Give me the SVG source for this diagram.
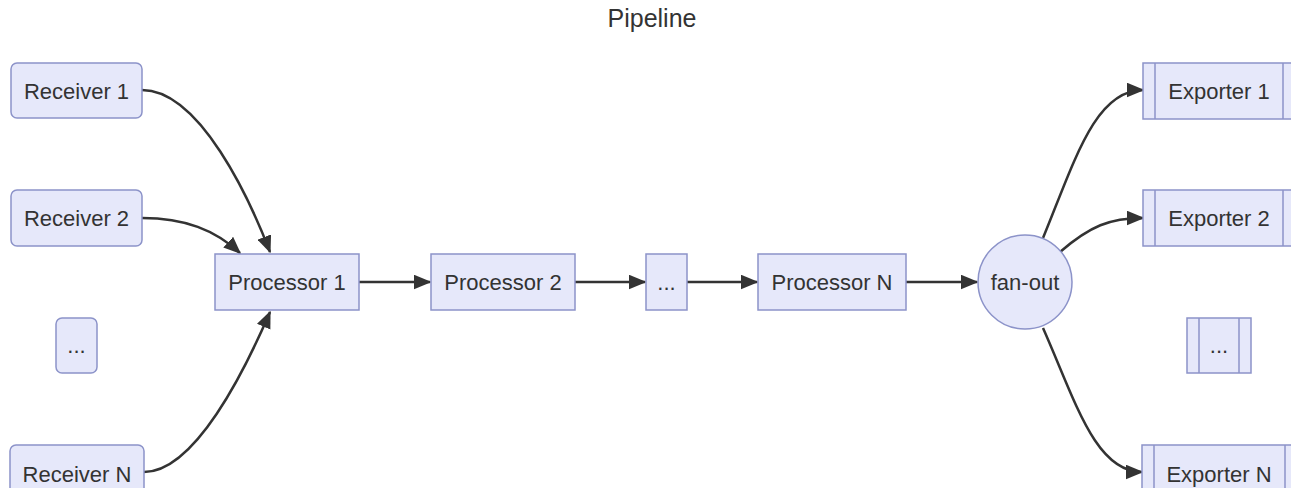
<svg xmlns="http://www.w3.org/2000/svg" width="1291" height="488" viewBox="0 0 1291 488">
  <style>
    .node { fill: #E6E8FA; stroke: #8C93C9; stroke-width: 1.5; }
    .bar { stroke: #8C93C9; stroke-width: 1.5; fill: none; }
    .label { font-family: "Liberation Sans", Arial, sans-serif; font-size: 22px; fill: #333333; text-anchor: middle; }
    .title { font-family: "Liberation Sans", Arial, sans-serif; font-size: 25px; fill: #333333; text-anchor: middle; }
    .edge { fill: none; stroke: #333333; stroke-width: 2.5; marker-end: url(#arrow); }
  </style>
  <defs>
    <marker id="arrow" viewBox="0 0 12 10" refX="11" refY="5" markerWidth="7" markerHeight="6" markerUnits="strokeWidth" orient="auto">
      <path d="M0,0 L12,5 L0,10 Z" fill="#333333"/>
    </marker>
  </defs>

  <rect width="1291" height="488" fill="#FFFFFF"/>
  <text class="title" x="652" y="27">Pipeline</text>

  <g id="connectors">
    <path class="edge" d="M142,90 C200,90 250,200 270,252"/>
    <path class="edge" d="M142,218 C185,218 215,230 240,253"/>
    <path class="edge" d="M144,472 C195,472 245,370 270,312"/>
    <path class="edge" d="M359,282 L430,282"/>
    <path class="edge" d="M575,282 L645,282"/>
    <path class="edge" d="M687,282 L757,282"/>
    <path class="edge" d="M906,282 L977,282"/>
    <path class="edge" d="M1043,238 C1075,160 1095,90 1143,90"/>
    <path class="edge" d="M1060,252 C1090,226 1110,218 1143,218"/>
    <path class="edge" d="M1043,328 C1075,400 1095,472 1142,472"/>
  </g>

  <g id="receiver1">
    <rect class="node" x="11" y="63" width="131" height="55" rx="6"/>
    <text class="label" x="76.5" y="98.5">Receiver 1</text>
  </g>
  <g id="receiver2">
    <rect class="node" x="11" y="190" width="131" height="56" rx="6"/>
    <text class="label" x="76.5" y="226">Receiver 2</text>
  </g>
  <g id="receiverDots">
    <rect class="node" x="56" y="318" width="41" height="55" rx="6"/>
    <text class="label" x="76.5" y="353">...</text>
  </g>
  <g id="receiverN">
    <rect class="node" x="10" y="445" width="134" height="56" rx="6"/>
    <text class="label" x="77" y="482">Receiver N</text>
  </g>

  <g id="processor1">
    <rect class="node" x="215" y="254" width="144" height="56"/>
    <text class="label" x="287" y="290">Processor 1</text>
  </g>
  <g id="processor2">
    <rect class="node" x="431" y="254" width="144" height="56"/>
    <text class="label" x="503" y="290">Processor 2</text>
  </g>
  <g id="processorDots">
    <rect class="node" x="646" y="254" width="41" height="56"/>
    <text class="label" x="666.5" y="290">...</text>
  </g>
  <g id="processorN">
    <rect class="node" x="758" y="254" width="148" height="56"/>
    <text class="label" x="832" y="290">Processor N</text>
  </g>

  <g id="fanout">
    <circle class="node" cx="1025" cy="282" r="47"/>
    <text class="label" x="1025" y="290">fan-out</text>
  </g>

  <g id="exporter1">
    <rect class="node" x="1143" y="63" width="160" height="56"/>
    <line class="bar" x1="1155" y1="63" x2="1155" y2="119"/>
    <line class="bar" x1="1283" y1="63" x2="1283" y2="119"/>
    <text class="label" x="1219" y="98.5">Exporter 1</text>
  </g>
  <g id="exporter2">
    <rect class="node" x="1143" y="190" width="160" height="56"/>
    <line class="bar" x1="1155" y1="190" x2="1155" y2="246"/>
    <line class="bar" x1="1283" y1="190" x2="1283" y2="246"/>
    <text class="label" x="1219" y="226">Exporter 2</text>
  </g>
  <g id="exporterDots">
    <rect class="node" x="1187" y="318" width="64" height="55"/>
    <line class="bar" x1="1199" y1="318" x2="1199" y2="373"/>
    <line class="bar" x1="1239" y1="318" x2="1239" y2="373"/>
    <text class="label" x="1219" y="353">...</text>
  </g>
  <g id="exporterN">
    <rect class="node" x="1142" y="445" width="162" height="56"/>
    <line class="bar" x1="1154" y1="445" x2="1154" y2="501"/>
    <line class="bar" x1="1285" y1="445" x2="1285" y2="501"/>
    <text class="label" x="1219" y="482">Exporter N</text>
  </g>
</svg>
